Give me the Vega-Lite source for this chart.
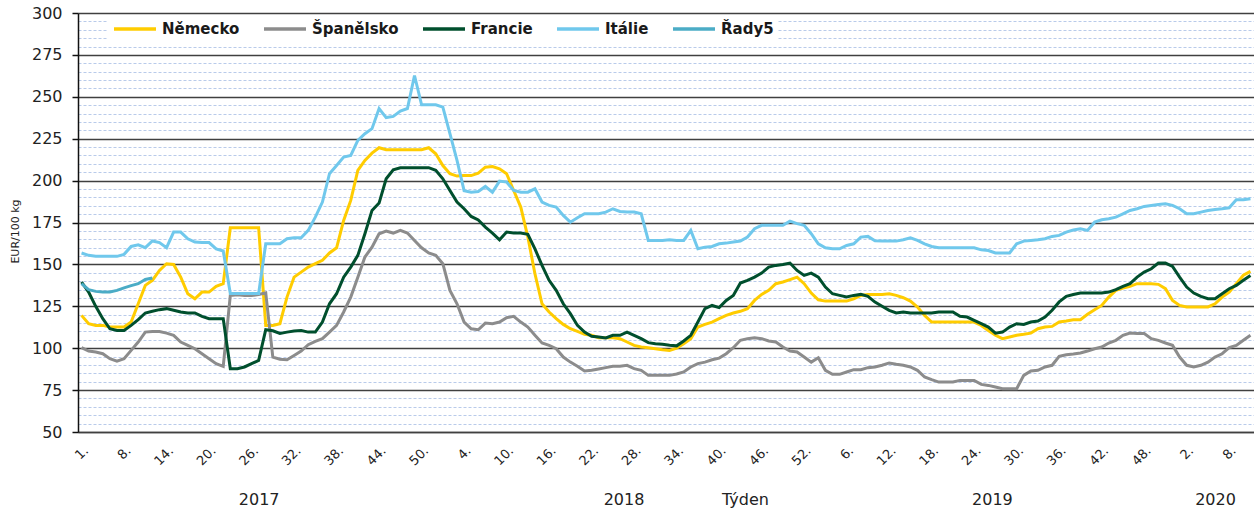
{
 "$schema": "https://vega.github.io/schema/vega-lite/v6.json",
 "width": 1176, "height": 419,
 "autosize": {"type": "none"},
 "padding": {"left": 78, "top": 13, "right": 0, "bottom": 79},
 "background": "white",
 "config": {"font": "DejaVu Sans", "view": {"stroke": null}},
 "data": {"values": [
{"i":0,"Německo":119.6,"Španělsko":100.3,"Francie":139.5,"Itálie":156.8,"Řady5":138.5},
{"i":1,"Německo":114.6,"Španělsko":98.3,"Francie":133.5,"Itálie":155.4,"Řady5":134.9},
{"i":2,"Německo":113.6,"Španělsko":97.7,"Francie":125,"Itálie":154.8,"Řady5":133.9},
{"i":3,"Německo":113.6,"Španělsko":96.7,"Francie":117.6,"Itálie":154.8,"Řady5":133.5},
{"i":4,"Německo":112.6,"Španělsko":93.7,"Francie":111.6,"Itálie":154.8,"Řady5":133.5},
{"i":5,"Německo":112.6,"Španělsko":92.3,"Francie":110.6,"Itálie":154.8,"Řady5":134.5},
{"i":6,"Německo":112.6,"Španělsko":93.7,"Francie":110.6,"Itálie":156,"Řady5":136},
{"i":7,"Německo":115.6,"Španělsko":98.7,"Francie":113.6,"Itálie":160.7,"Řady5":137.3},
{"i":8,"Německo":126.5,"Španělsko":103.7,"Francie":117,"Itálie":161.7,"Řady5":138.5},
{"i":9,"Německo":137.5,"Španělsko":109.6,"Francie":121,"Itálie":160,"Řady5":141},
{"i":10,"Německo":140.5,"Španělsko":110,"Francie":122,"Itálie":164,"Řady5":141.9},
{"i":11,"Německo":146.4,"Španělsko":110,"Francie":123,"Itálie":163},
{"i":12,"Německo":150.4,"Španělsko":109,"Francie":123.6,"Itálie":160},
{"i":13,"Německo":150,"Španělsko":107.7,"Francie":122.6,"Itálie":169.3},
{"i":14,"Německo":142.4,"Španělsko":103.7,"Francie":121.6,"Itálie":169.3},
{"i":15,"Německo":132.5,"Španělsko":101.7,"Francie":121,"Itálie":165.3},
{"i":16,"Německo":129.5,"Španělsko":99.7,"Francie":121,"Itálie":163.3},
{"i":17,"Německo":133.5,"Španělsko":96.7,"Francie":119,"Itálie":163},
{"i":18,"Německo":133.5,"Španělsko":93.7,"Francie":117.6,"Itálie":163},
{"i":19,"Německo":136.9,"Španělsko":90.8,"Francie":117.6,"Itálie":159.3},
{"i":20,"Německo":138.5,"Španělsko":89.2,"Francie":117.6,"Itálie":158},
{"i":21,"Německo":171.9,"Španělsko":131.5,"Francie":87.8,"Itálie":132.6},
{"i":22,"Německo":171.9,"Španělsko":131.9,"Francie":87.8,"Itálie":132.6},
{"i":23,"Německo":171.9,"Španělsko":131.5,"Francie":88.8,"Itálie":132.6},
{"i":24,"Německo":171.9,"Španělsko":131.5,"Francie":90.8,"Itálie":132.6},
{"i":25,"Německo":171.9,"Španělsko":132,"Francie":92.7,"Itálie":132.6},
{"i":26,"Německo":113.6,"Španělsko":133,"Francie":111,"Itálie":162.3},
{"i":27,"Německo":113.6,"Španělsko":94.7,"Francie":110.4,"Itálie":162.3},
{"i":28,"Německo":114.6,"Španělsko":93.4,"Francie":108.8,"Itálie":162.3},
{"i":29,"Německo":130.5,"Španělsko":93.1,"Francie":109.6,"Itálie":165.3},
{"i":30,"Německo":142.4,"Španělsko":95.7,"Francie":110.2,"Itálie":165.9},
{"i":31,"Německo":145.4,"Španělsko":98.3,"Francie":110.6,"Itálie":165.9},
{"i":32,"Německo":148.4,"Španělsko":102.1,"Francie":109.6,"Itálie":170.3},
{"i":33,"Německo":150.4,"Španělsko":104.1,"Francie":109.6,"Itálie":178.2},
{"i":34,"Německo":152.4,"Španělsko":105.7,"Francie":115.6,"Itálie":187.2},
{"i":35,"Německo":156.8,"Španělsko":109.6,"Francie":126.5,"Itálie":204.1},
{"i":36,"Německo":159.9,"Španělsko":113.6,"Francie":132.5,"Itálie":209},
{"i":37,"Německo":176.2,"Španělsko":121.6,"Francie":142.4,"Itálie":214},
{"i":38,"Německo":188.2,"Španělsko":130.5,"Francie":148.4,"Itálie":215},
{"i":39,"Německo":206.1,"Španělsko":142.4,"Francie":155.4,"Itálie":224},
{"i":40,"Německo":212,"Španělsko":154.4,"Francie":168.3,"Itálie":228},
{"i":41,"Německo":216.4,"Španělsko":160.3,"Francie":182.2,"Itálie":231},
{"i":42,"Německo":219.6,"Španělsko":168.3,"Francie":186.6,"Itálie":243},
{"i":43,"Německo":218.4,"Španělsko":169.9,"Francie":201.1,"Itálie":237.6},
{"i":44,"Německo":218.4,"Španělsko":168.7,"Francie":206.5,"Itálie":238.3},
{"i":45,"Německo":218.4,"Španělsko":170.3,"Francie":207.7,"Itálie":241.5},
{"i":46,"Německo":218.4,"Španělsko":168.7,"Francie":207.7,"Itálie":243},
{"i":47,"Německo":218.4,"Španělsko":164.3,"Francie":207.7,"Itálie":262.7},
{"i":48,"Německo":218.4,"Španělsko":159.9,"Francie":207.7,"Itálie":245.2},
{"i":49,"Německo":219.6,"Španělsko":156.8,"Francie":207.7,"Itálie":245.2},
{"i":50,"Německo":216,"Španělsko":155.4,"Francie":206.1,"Itálie":245.2},
{"i":51,"Německo":209,"Španělsko":150.4,"Francie":201.1,"Itálie":243.8},
{"i":52,"Německo":204.1,"Španělsko":134.5,"Francie":194.1,"Itálie":228},
{"i":53,"Německo":202.7,"Španělsko":126.5,"Francie":187.2,"Itálie":212},
{"i":54,"Německo":203,"Španělsko":115.6,"Francie":183.2,"Itálie":194},
{"i":55,"Německo":203,"Španělsko":111.6,"Francie":178.6,"Itálie":193.1},
{"i":56,"Německo":204.5,"Španělsko":111,"Francie":176.5,"Itálie":193.5},
{"i":57,"Německo":208,"Španělsko":115,"Francie":172.3,"Itálie":196.5},
{"i":58,"Německo":208.4,"Španělsko":114.6,"Francie":168.7,"Itálie":193.1},
{"i":59,"Německo":207,"Španělsko":115.6,"Francie":164.7,"Itálie":199.7},
{"i":60,"Německo":204.1,"Španělsko":118.2,"Francie":169.3,"Itálie":199.1},
{"i":61,"Německo":194.1,"Španělsko":119,"Francie":168.7,"Itálie":194.1},
{"i":62,"Německo":184.2,"Španělsko":115.6,"Francie":168.7,"Itálie":193.1},
{"i":63,"Německo":166.3,"Španělsko":112.6,"Francie":167.9,"Itálie":193.1},
{"i":64,"Německo":144.4,"Španělsko":107.7,"Francie":159.3,"Itálie":195.1},
{"i":65,"Německo":126.5,"Španělsko":103.1,"Francie":149.4,"Itálie":187.2},
{"i":66,"Německo":121.6,"Španělsko":101.7,"Francie":140.5,"Itálie":185.2},
{"i":67,"Německo":117.6,"Španělsko":99.7,"Francie":134.5,"Itálie":184.2},
{"i":68,"Německo":114.2,"Španělsko":94.7,"Francie":126.5,"Itálie":179.2},
{"i":69,"Německo":111.6,"Španělsko":91.7,"Francie":120.6,"Itálie":175.2},
{"i":70,"Německo":110,"Španělsko":89.2,"Francie":113.6,"Itálie":177.8},
{"i":71,"Německo":108.3,"Španělsko":86.4,"Francie":109.6,"Itálie":180.2},
{"i":72,"Německo":107.7,"Španělsko":86.8,"Francie":107.1,"Itálie":180.2},
{"i":73,"Německo":106.3,"Španělsko":87.6,"Francie":106.7,"Itálie":180.2},
{"i":74,"Německo":106.3,"Španělsko":88.4,"Francie":106.1,"Itálie":181.2},
{"i":75,"Německo":106.3,"Španělsko":89.2,"Francie":107.7,"Itálie":183.2},
{"i":76,"Německo":105.7,"Španělsko":89.2,"Francie":107.7,"Itálie":181.6},
{"i":77,"Německo":103.7,"Španělsko":89.8,"Francie":109.6,"Itálie":181.2},
{"i":78,"Německo":101.7,"Španělsko":87.8,"Francie":107.7,"Itálie":181.2},
{"i":79,"Německo":100.7,"Španělsko":86.8,"Francie":105.7,"Itálie":180.2},
{"i":80,"Německo":100.3,"Španělsko":83.8,"Francie":103.3,"Itálie":164.3},
{"i":81,"Německo":99.7,"Španělsko":83.8,"Francie":102.7,"Itálie":164.3},
{"i":82,"Německo":99.1,"Španělsko":83.8,"Francie":102.3,"Itálie":164.3},
{"i":83,"Německo":98.7,"Španělsko":83.8,"Francie":101.7,"Itálie":164.7},
{"i":84,"Německo":100,"Španělsko":84.6,"Francie":101.4,"Itálie":164.3},
{"i":85,"Německo":102.7,"Španělsko":85.8,"Francie":104.3,"Itálie":164.3},
{"i":86,"Německo":105.7,"Španělsko":88.8,"Francie":107.7,"Itálie":170.3},
{"i":87,"Německo":112.6,"Španělsko":90.8,"Francie":115.6,"Itálie":159.3},
{"i":88,"Německo":114.2,"Španělsko":91.7,"Francie":123.6,"Itálie":160.3},
{"i":89,"Německo":115.6,"Španělsko":93.1,"Francie":125.5,"Itálie":160.7},
{"i":90,"Německo":117.6,"Španělsko":94.1,"Francie":124.2,"Itálie":162.3},
{"i":91,"Německo":119.6,"Španělsko":96.7,"Francie":128.5,"Itálie":162.7},
{"i":92,"Německo":121,"Španělsko":100.3,"Francie":131.5,"Itálie":163.3},
{"i":93,"Německo":122,"Španělsko":104.7,"Francie":138.9,"Itálie":163.9},
{"i":94,"Německo":123.6,"Španělsko":105.7,"Francie":140.5,"Itálie":166.3},
{"i":95,"Německo":128.5,"Španělsko":106.3,"Francie":142.4,"Itálie":171.3},
{"i":96,"Německo":132.1,"Španělsko":105.7,"Francie":144.8,"Itálie":173.3},
{"i":97,"Německo":134.5,"Španělsko":104.3,"Francie":148.4,"Itálie":173.3},
{"i":98,"Německo":138.5,"Španělsko":103.7,"Francie":149.4,"Itálie":173.3},
{"i":99,"Německo":139.5,"Španělsko":100.7,"Francie":150,"Itálie":173.3},
{"i":100,"Německo":140.9,"Španělsko":98.3,"Francie":150.8,"Itálie":175.8},
{"i":101,"Německo":142.4,"Španělsko":97.7,"Francie":146.4,"Itálie":174.3},
{"i":102,"Německo":138.5,"Španělsko":94.7,"Francie":143.4,"Itálie":173.3},
{"i":103,"Německo":132.9,"Španělsko":91.7,"Francie":144.8,"Itálie":168.3},
{"i":104,"Německo":128.9,"Španělsko":94.3,"Francie":142.4,"Itálie":162.3},
{"i":105,"Německo":128.1,"Španělsko":86.8,"Francie":136.5,"Itálie":159.9},
{"i":106,"Německo":128.1,"Španělsko":84.4,"Francie":132.5,"Itálie":159.3},
{"i":107,"Německo":128.1,"Španělsko":84.4,"Francie":131.5,"Itálie":159.3},
{"i":108,"Německo":128.1,"Španělsko":85.8,"Francie":130.5,"Itálie":161.3},
{"i":109,"Německo":129.5,"Španělsko":87.2,"Francie":131.5,"Itálie":162.3},
{"i":110,"Německo":131.5,"Španělsko":87.2,"Francie":132.1,"Itálie":166.3},
{"i":111,"Německo":132.1,"Španělsko":88.4,"Francie":130.9,"Itálie":166.7},
{"i":112,"Německo":132.1,"Španělsko":88.8,"Francie":127.5,"Itálie":164.1},
{"i":113,"Německo":132.1,"Španělsko":89.8,"Francie":125,"Itálie":163.9},
{"i":114,"Německo":132.5,"Španělsko":91.2,"Francie":122.6,"Itálie":163.9},
{"i":115,"Německo":131.5,"Španělsko":90.4,"Francie":121,"Itálie":163.9},
{"i":116,"Německo":130.1,"Španělsko":89.8,"Francie":121.6,"Itálie":164.7},
{"i":117,"Německo":128.1,"Španělsko":88.8,"Francie":121,"Itálie":165.9},
{"i":118,"Německo":124.6,"Španělsko":86.8,"Francie":121,"Itálie":164.3},
{"i":119,"Německo":119.6,"Španělsko":82.8,"Francie":121,"Itálie":162.3},
{"i":120,"Německo":115.6,"Španělsko":81.2,"Francie":121,"Itálie":160.7},
{"i":121,"Německo":115.6,"Španělsko":79.8,"Francie":121.6,"Itálie":159.9},
{"i":122,"Německo":115.6,"Španělsko":79.8,"Francie":121.6,"Itálie":159.9},
{"i":123,"Německo":115.6,"Španělsko":79.8,"Francie":121.6,"Itálie":159.9},
{"i":124,"Německo":115.6,"Španělsko":80.8,"Francie":119,"Itálie":159.9},
{"i":125,"Německo":115.6,"Španělsko":80.8,"Francie":118.6,"Itálie":159.9},
{"i":126,"Německo":115.6,"Španělsko":80.8,"Francie":116.6,"Itálie":159.9},
{"i":127,"Německo":113.6,"Španělsko":78.4,"Francie":114.6,"Itálie":158.7},
{"i":128,"Německo":110.6,"Španělsko":77.8,"Francie":112.6,"Itálie":158.3},
{"i":129,"Německo":107.7,"Španělsko":76.8,"Francie":109,"Itálie":156.8},
{"i":130,"Německo":105.7,"Španělsko":75.8,"Francie":109.6,"Itálie":156.8},
{"i":131,"Německo":106.7,"Španělsko":75.8,"Francie":112.6,"Itálie":156.8},
{"i":132,"Německo":107.7,"Španělsko":75.8,"Francie":114.6,"Itálie":162.3},
{"i":133,"Německo":108.3,"Španělsko":83.8,"Francie":114.2,"Itálie":163.9},
{"i":134,"Německo":109,"Španělsko":86.4,"Francie":115.6,"Itálie":164.3},
{"i":135,"Německo":111.6,"Španělsko":86.8,"Francie":116.2,"Itálie":164.7},
{"i":136,"Německo":112.6,"Španělsko":88.8,"Francie":118.6,"Itálie":165.3},
{"i":137,"Německo":113,"Španělsko":89.8,"Francie":122.6,"Itálie":166.7},
{"i":138,"Německo":115.6,"Španělsko":95.1,"Francie":127.6,"Itálie":167.3},
{"i":139,"Německo":116.2,"Španělsko":96.1,"Francie":130.9,"Itálie":169.3},
{"i":140,"Německo":117,"Španělsko":96.5,"Francie":132,"Itálie":170.5},
{"i":141,"Německo":117,"Španělsko":97.1,"Francie":132.9,"Itálie":171.3},
{"i":142,"Německo":120.2,"Španělsko":98.3,"Francie":132.9,"Itálie":170.3},
{"i":143,"Německo":123,"Španělsko":99.7,"Francie":132.9,"Itálie":175.2},
{"i":144,"Německo":125.5,"Španělsko":100.7,"Francie":132.9,"Itálie":176.6},
{"i":145,"Německo":130.5,"Španělsko":103.1,"Francie":133.5,"Itálie":177.2},
{"i":146,"Německo":134.5,"Španělsko":104.7,"Francie":134.9,"Itálie":178.2},
{"i":147,"Německo":135.9,"Španělsko":107.7,"Francie":136.9,"Itálie":180.2},
{"i":148,"Německo":136.9,"Španělsko":109,"Francie":138.5,"Itálie":182.2},
{"i":149,"Německo":138.5,"Španělsko":108.7,"Francie":142.4,"Itálie":183.2},
{"i":150,"Německo":138.5,"Španělsko":108.7,"Francie":145.4,"Itálie":184.6},
{"i":151,"Německo":138.5,"Španělsko":105.7,"Francie":147.4,"Itálie":185.2},
{"i":152,"Německo":138.1,"Španělsko":104.7,"Francie":150.8,"Itálie":185.8},
{"i":153,"Německo":135.5,"Španělsko":103.1,"Francie":150.8,"Itálie":186.2},
{"i":154,"Německo":128.5,"Španělsko":101.7,"Francie":148.8,"Itálie":185.2},
{"i":155,"Německo":125.5,"Španělsko":94.7,"Francie":142.4,"Itálie":183.2},
{"i":156,"Německo":124.6,"Španělsko":89.8,"Francie":136.5,"Itálie":180.2},
{"i":157,"Německo":124.6,"Španělsko":88.8,"Francie":132.9,"Itálie":180.2},
{"i":158,"Německo":124.6,"Španělsko":89.8,"Francie":130.9,"Itálie":181.2},
{"i":159,"Německo":124.6,"Španělsko":91.7,"Francie":129.5,"Itálie":182.2},
{"i":160,"Německo":126.5,"Španělsko":94.7,"Francie":129.5,"Itálie":182.8},
{"i":161,"Německo":130.5,"Španělsko":96.7,"Francie":132.5,"Itálie":183.2},
{"i":162,"Německo":133.5,"Španělsko":100.3,"Francie":135.5,"Itálie":183.8},
{"i":163,"Německo":138.5,"Španělsko":101.7,"Francie":137.5,"Itálie":188.6},
{"i":164,"Německo":143.5,"Španělsko":104.7,"Francie":140.5,"Itálie":188.6},
{"i":165,"Německo":145.8,"Španělsko":107.7,"Francie":143.4,"Itálie":189.2}
 ]},
 "transform": [
  {"fold": ["Německo", "Španělsko", "Francie", "Itálie", "Řady5"], "as": ["zeme", "cena"]},
  {"filter": "isValid(datum.cena)"}
 ],
 "layer": [
  {
   "mark": {"type": "line", "opacity": 0},
   "encoding": {
    "x": {"field": "i", "type": "quantitative",
     "scale": {"domain": [-0.5, 165.5], "nice": false, "zero": false},
     "axis": {"orient": "bottom", "offset": 58, "values": [25, 76.5, 128.5, 160],
      "labelExpr": "datum.value < 50 ? '2017' : datum.value < 100 ? '2018' : datum.value < 150 ? '2019' : '2020'",
      "domain": false, "ticks": false, "grid": false, "labelAngle": 0, "labelFontSize": 16, "labelColor": "#222222",
      "labelPadding": 1, "labelBaseline": "top", "labelAlign": "center", "labelFlush": false, "labelOverlap": false,
      "title": "Týden", "titleFontSize": 16, "titleFontWeight": "normal", "titleColor": "#222222",
      "titleX": 667, "titleY": 1, "titleBaseline": "top", "titleAlign": "center", "titleAngle": 0}},
    "y": {"field": "cena", "type": "quantitative",
     "scale": {"domain": [50, 300], "nice": false, "zero": false},
     "axis": {"orient": "left",
      "values": [55,60,65,70,80,85,90,95,105,110,115,120,130,135,140,145,155,160,165,170,180,185,190,195,205,210,215,220,230,235,240,245,255,260,265,270,280,285,290,295],
      "labels": false, "ticks": false, "domain": false, "grid": true, "gridColor": "#B9CBEA", "gridDash": [3, 2], "gridWidth": 1, "title": null}}
   }
  },
  {
   "mark": {"type": "line", "strokeWidth": 3},
   "encoding": {
    "x": {"field": "i", "type": "quantitative",
     "scale": {"domain": [-0.5, 165.5], "nice": false, "zero": false},
     "axis": {"orient": "bottom", "values": [0,6,12,18,24,30,36,42,48,54,60,66,72,78,84,90,96,102,108,114,120,126,132,138,144,150,156,162],
      "labelExpr": "(datum.value == 0 ? 1 : datum.value <= 50 ? datum.value + 2 : datum.value <= 102 ? datum.value - 50 : datum.value <= 154 ? datum.value - 102 : datum.value - 154) + '.'",
      "labelAngle": -45, "labelFontSize": 13, "labelColor": "#222222", "labelPadding": 12,
      "ticks": false, "grid": false, "domain": true, "domainColor": "#404040", "domainWidth": 1.5,
      "labelFlush": false, "labelOverlap": false, "title": null}},
    "y": {"field": "cena", "type": "quantitative",
     "scale": {"domain": [50, 300], "nice": false, "zero": false},
     "axis": {"orient": "left", "values": [50,75,100,125,150,175,200,225,250,275,300],
      "grid": true, "gridColor": "#404040", "gridWidth": 1.5,
      "domain": true, "domainColor": "#111111", "domainWidth": 1.5,
      "ticks": true, "tickColor": "#111111", "tickSize": 6, "tickWidth": 1.5,
      "labelFontSize": 16, "labelColor": "#222222", "labelPadding": 10, "labelFlush": false,
      "title": "EUR/100 kg", "titleFontSize": 11, "titleFontWeight": "normal", "titleColor": "#222222",
      "titleX": -63, "titleY": 218, "titleAngle": -90, "titleAlign": "center", "titleBaseline": "middle"}},
    "color": {"field": "zeme", "type": "nominal",
     "scale": {"domain": ["Německo", "Španělsko", "Francie", "Itálie", "Řady5"],
               "range": ["#FFCC00", "#8C8C8C", "#004F2D", "#70C8EC", "#4BACC6"]},
     "legend": {"orient": "none", "legendX": 30, "legendY": 2, "direction": "horizontal", "title": null,
      "symbolType": "stroke", "symbolSize": 1764, "symbolStrokeWidth": 3.5, "clipHeight": 20,
      "labelFont": "DejaVu Sans", "labelFontSize": 15, "labelFontWeight": "bold", "labelColor": "#1a1a1a",
      "labelOffset": 4, "columnPadding": 22, "padding": 4, "fillColor": "white"}}
   }
  }
 ],
 "resolve": {"axis": {"x": "independent", "y": "independent"}}
}
